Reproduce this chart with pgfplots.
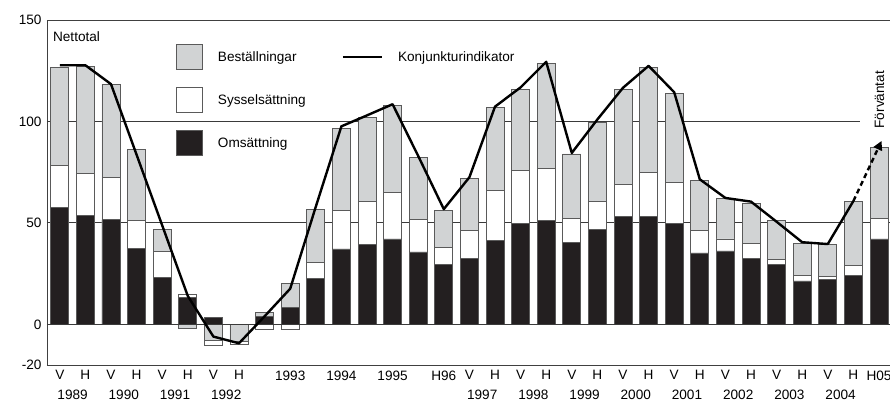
\documentclass[border=0pt]{standalone}
\usepackage{pgfplots}
\pgfplotsset{compat=1.18}
\usepackage{pgfplotstable}
\usepackage{fontspec}
\setmainfont{Liberation Sans}
\usetikzlibrary{arrows.meta}
\newcommand\fsz{\fontsize{13.6bp}{16bp}\selectfont}
\definecolor{cgrey}{HTML}{D1D3D4}
\definecolor{cblack}{HTML}{231F20}
\definecolor{cedge}{HTML}{5A5A5A}
\definecolor{cgrid}{HTML}{3A3A3A}

% btop = top of Omsattning, wtop = top of Sysselsattning, tot = top of Bestallningar
% gneg = bottom of negative Bestallningar, wneg = bottom of negative Sysselsattning
% k = Konjunkturindikator
\pgfplotstableread{
x  btop  wtop  tot    gneg  wneg   k
1  57.6  78.3  126.6  nan   nan    127.7
2  53.5  74.2  127.2  nan   nan    127.7
3  51.5  72.3  118.4  nan   nan    118.4
4  37.5  51.4  86.1   nan   nan    83.6
5  23.3  35.9  46.8   nan   nan    48.8
6  13.3  15.0  nan    -2.0  nan    14.0
7  3.4   nan   nan    -8.0  -10.1  -6.0
8  nan   nan   nan    -8.3  -9.9   -9.3
9  4.1   nan   5.9    nan   -2.4   4.0
10 8.3   nan   20.4   nan   -2.6   17.6
11 22.5  30.7  56.8   nan   nan    58.0
12 37.2  56.0  96.7   nan   nan    97.6
13 39.6  60.4  102.1  nan   nan    103.0
14 42.1  64.9  107.8  nan   nan    108.5
15 35.7  51.5  82.1   nan   nan    83.0
16 29.4  38.0  56.0   nan   nan    56.8
17 32.3  46.2  71.9   nan   nan    72.5
18 41.3  66.1  106.9  nan   nan    107.3
19 49.9  76.0  115.8  nan   nan    116.8
20 51.1  76.8  128.5  nan   nan    129.4
21 40.3  52.0  84.0   nan   nan    84.5
22 46.7  60.4  99.7   nan   nan    101.0
23 53.2  69.0  115.8  nan   nan    116.6
24 53.2  74.7  126.8  nan   nan    127.4
25 49.9  69.8  113.7  nan   nan    114.4
26 35.2  46.2  71.1   nan   nan    71.5
27 36.2  42.1  62.0   nan   nan    62.3
28 32.3  40.0  59.7   nan   nan    60.5
29 29.5  32.0  51.1   nan   nan    50.6
30 21.4  24.1  40.0   nan   nan    40.5
31 22.2  23.8  39.2   nan   nan    39.6
32 24.1  29.0  60.8   nan   nan    60.8
33 42.1  52.2  87.0   nan   nan    nan
}\data

\begin{document}
\begin{tikzpicture}[font=\fsz]
\useasboundingbox (-47bp,-37bp) rectangle (843bp,365bp);
\begin{axis}[
  at={(0,0)}, anchor=south west,
  scale only axis, width=843bp, height=345bp,
  xmin=0.5, xmax=33.43, ymin=-20, ymax=150,
  axis x line*=box, axis y line*=left,
  axis line style={black!75, line width=0.9bp},
  xticklabel pos=lower, yticklabel pos=left,
  major tick length=0pt,
  /pgf/number format/assume math mode=true,
  ytick={-20,0,50,100,150},
  yticklabel style={font=\fsz, xshift=-2bp},
  xtick={1,...,33},
  xticklabels={V,H,V,H,V,H,V,H,{},1993,{},1994,{},1995,{},H96,V,H,V,H,V,H,V,H,V,H,V,H,V,H,V,H,H05},
  xticklabel style={font=\fsz, yshift=-2bp},
  extra x ticks={1.5,3.5,5.5,7.5,17.5,19.5,21.5,23.5,25.5,27.5,29.5,31.5},
  extra x tick labels={1989,1990,1991,1992,1997,1998,1999,2000,2001,2002,2003,2004},
  extra x tick style={xticklabel style={yshift=-19bp}},
  legend columns=2,
  legend cell align=left,
  legend style={at={(0.153,0.930)}, anchor=north west, draw=none, fill=none,
    inner sep=0pt, font=\fsz, row sep=17bp,
    /tikz/every odd column/.append style={column sep=13bp},
    /tikz/every even column/.append style={column sep=34bp}},
  clip=false,
]
\addlegendimage{legend image code/.code={\draw[fill=cgrey,draw=cedge,line width=0.8bp] (0bp,-12.5bp) rectangle (26bp,12.5bp);}}
\addlegendentry{Beställningar}
\addlegendimage{legend image code/.code={\draw[line width=2.4bp] (0bp,0bp) -- (39bp,0bp);}}
\addlegendentry{Konjunkturindikator}
\addlegendimage{legend image code/.code={\draw[fill=white,draw=cedge,line width=0.8bp] (0bp,-12.5bp) rectangle (26bp,12.5bp);}}
\addlegendentry{Sysselsättning}
\addlegendimage{empty legend}
\addlegendentry{}
\addlegendimage{legend image code/.code={\draw[fill=cblack,draw=cedge,line width=0.8bp] (0bp,-12.5bp) rectangle (26bp,12.5bp);}}
\addlegendentry{Omsättning}

% grid lines
\draw[cgrid, line width=1.1bp] (axis cs:0.5,50) -- (axis cs:33.43,50);
\draw[cgrid, line width=1.1bp] (axis cs:0.5,100) -- (axis cs:32.27,100);

% bars (overlaid from the outer boundary inward)
\pgfplotsset{mybar/.style={ybar, bar width=18bp, bar shift=0pt, draw=cedge, line width=0.8bp, forget plot}}
\addplot[mybar, fill=cgrey]  table[x=x, y=tot]  {\data};
\addplot[mybar, fill=white]  table[x=x, y=wtop] {\data};
\addplot[mybar, fill=cblack] table[x=x, y=btop] {\data};
\addplot[mybar, fill=white]  table[x=x, y=wneg] {\data};
\addplot[mybar, fill=cgrey]  table[x=x, y=gneg] {\data};

% zero line
\draw[cgrid, line width=1.1bp] (axis cs:0.5,0) -- (axis cs:33.43,0);

% Konjunkturindikator
\addplot[black, line width=2.4bp, line join=round, mark=none, forget plot] table[x=x, y=k] {\data};
\addplot[black, line width=2.4bp, dash pattern=on 5bp off 3.5bp, mark=none, forget plot,
  -{Triangle[length=9bp, width=9bp]}] coordinates {(32,60.8) (33.1,90.4)};

\node[anchor=west, inner sep=0pt, font=\fsz] at (axis description cs:0.007,0.951) {Nettotal};
\node[anchor=west, rotate=90, inner sep=0pt, font=\fsz] at (axis cs:33.02,96.5) {Förväntat};
\end{axis}
\end{tikzpicture}
\end{document}
